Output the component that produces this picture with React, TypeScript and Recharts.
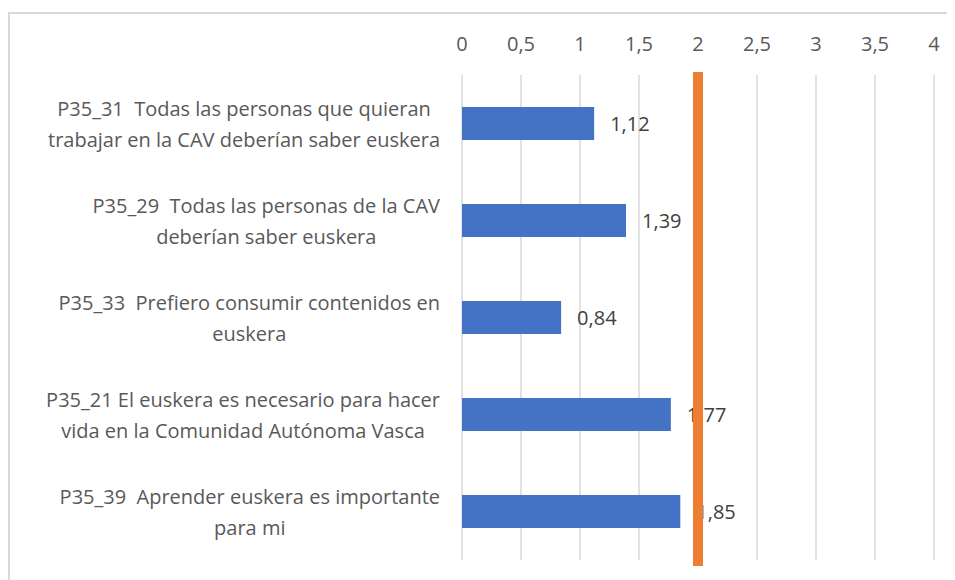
import { BarChart, Bar, XAxis, YAxis, CartesianGrid, ReferenceLine, LabelList } from "recharts";

const categories = [
  ["P35_31  Todas las personas que quieran", "trabajar en la CAV deberían saber euskera"],
  ["P35_29  Todas las personas de la CAV", "deberían saber euskera"],
  ["P35_33  Prefiero consumir contenidos en", "euskera"],
  ["P35_21 El euskera es necesario para hacer", "vida en la Comunidad Autónoma Vasca"],
  ["P35_39  Aprender euskera es importante", "para mi"],
];
const values = [1.12, 1.39, 0.84, 1.77, 1.85];
const xTicks = [0, 0.5, 1, 1.5, 2, 2.5, 3, 3.5, 4];
const threshold = 2;

const data = categories.map((lines, i) => ({ name: lines.join("\n"), value: values[i] }));

const FONT = "'Open Sans', sans-serif";
const FONT_SIZE = 20;

const fmt = (v: number) => String(v).replace(".", ",");

let ctx: CanvasRenderingContext2D | null = null;
function measure(text: string) {
  if (!ctx) ctx = document.createElement("canvas").getContext("2d");
  if (!ctx) return text.length * 9;
  ctx.font = `${FONT_SIZE}px ${FONT}`;
  return ctx.measureText(text).width;
}

function CategoryTick(props: any) {
  const { x, y, payload } = props;
  const lines: string[] = String(payload.value).split("\n");
  const blockW = Math.max(...lines.map(measure));
  const cx = x - blockW / 2;
  const lh = 31;
  const start = y - ((lines.length - 1) * lh) / 2;
  return (
    <g>
      {lines.map((l, i) => (
        <text
          key={i}
          x={cx}
          y={start + i * lh}
          textAnchor="middle"
          dominantBaseline="central"
          fill="#595959"
          fontSize={FONT_SIZE}
          fontFamily={FONT}
          style={{ whiteSpace: "pre" }}
        >
          {l}
        </text>
      ))}
    </g>
  );
}

function ThresholdShape(props: any) {
  const { x1, y1, x2, y2 } = props;
  return <line x1={x1} x2={x2} y1={y1 - 3} y2={y2 + 6} stroke="#ED7D31" strokeWidth={10} />;
}

export default function App() {
  return (
    <div
      style={{
        marginTop: 4,
        width: 945,
        height: 568,
        borderTop: "2px solid #d9d9d9",
        borderLeft: "2px solid #d9d9d9",
        fontFamily: FONT,
      }}
    >
      <BarChart
        width={943}
        height={566}
        data={data}
        layout="vertical"
        margin={{ top: 0, right: 19, bottom: 20, left: 0 }}
        barCategoryGap={0}
      >
        <CartesianGrid horizontal={false} stroke="#d9d9d9" strokeWidth={1.5} />
        <XAxis
          type="number"
          orientation="top"
          domain={[0, 4]}
          ticks={xTicks}
          tickFormatter={fmt}
          axisLine={false}
          tickLine={false}
          tickSize={0}
          tickMargin={24}
          height={61}
          tick={{ fill: "#595959", fontSize: FONT_SIZE, fontFamily: FONT }}
        />
        <YAxis
          type="category"
          dataKey="name"
          width={452}
          axisLine={false}
          tickLine={false}
          tickSize={0}
          tickMargin={22}
          tick={<CategoryTick />}
          interval={0}
        />
        <Bar dataKey="value" fill="#4472C4" barSize={33} isAnimationActive={false}>
          <LabelList
            dataKey="value"
            position="right"
            offset={16}
            formatter={(v: any) => fmt(v)}
            fill="#404040"
            fontSize={FONT_SIZE}
            fontFamily={FONT}
            zIndex={0}
          />
        </Bar>
        <ReferenceLine x={threshold} shape={<ThresholdShape />} zIndex={2000} />
      </BarChart>
    </div>
  );
}
